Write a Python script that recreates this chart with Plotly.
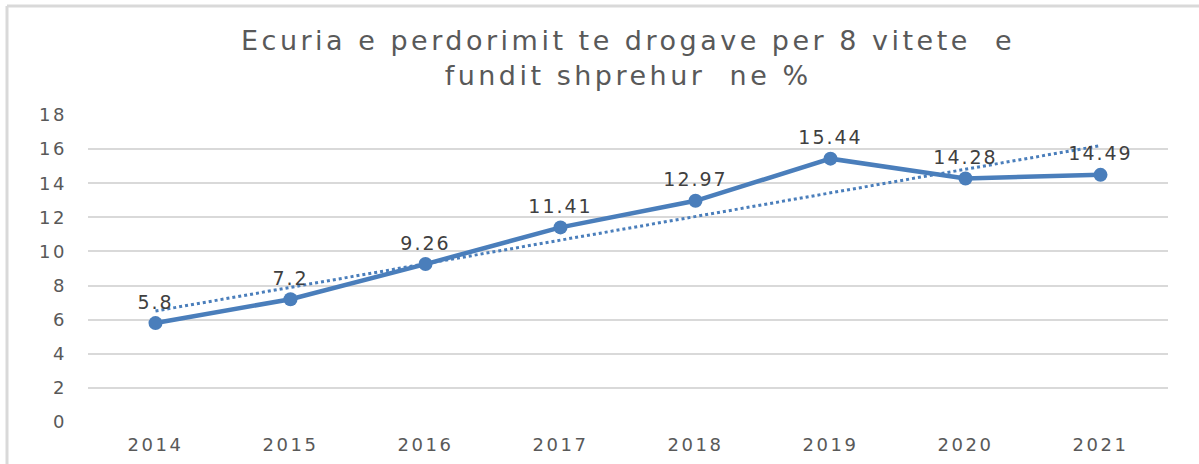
import numpy as np
import plotly.graph_objects as go

years = ["2014", "2015", "2016", "2017", "2018", "2019", "2020", "2021"]
values = [5.8, 7.2, 9.26, 11.41, 12.97, 15.44, 14.28, 14.49]
labels = ["5.8", "7.2", "9.26", "11.41", "12.97", "15.44", "14.28", "14.49"]
y_ticks = [0, 2, 4, 6, 8, 10, 12, 14, 16, 18]
title_lines = ["Ecuria e perdorimit te drogave per 8 vitete&nbsp; e", "fundit shprehur&nbsp; ne %"]


def spaced(s, px):
    return f'<span style="letter-spacing:{px}px">{s}</span>'


idx = np.arange(len(values))
slope, intercept = np.polyfit(idx, values, 1)
trend = slope * idx + intercept

FONT = "DejaVu Sans"
color = "#4a7ebb"
fig = go.Figure()
fig.add_trace(go.Scatter(
    x=years, y=trend, mode="lines",
    line=dict(color=color, width=3, dash="dot"),
    hoverinfo="skip", showlegend=False,
))
fig.add_trace(go.Scatter(
    x=years, y=values, mode="lines+markers+text",
    line=dict(color=color, width=4.5),
    marker=dict(color=color, size=14),
    text=[spaced(t, 2) for t in labels], textposition="top center",
    textfont=dict(size=19, color="#404040", family=FONT),
    showlegend=False,
))

fig.add_annotation(
    text="<br>".join(spaced(t, 3.5) for t in title_lines),
    xref="paper", yref="paper", x=0.5, y=1.185, xanchor="center", yanchor="middle",
    showarrow=False, font=dict(size=27, color="#595959", family=FONT),
)

fig.update_layout(
    width=1199, height=464,
    margin=dict(l=88, r=31, t=115, b=42),
    paper_bgcolor="white", plot_bgcolor="white",
    font=dict(family=FONT, color="#595959"),
    xaxis=dict(showgrid=False, showline=False, ticks="", tickfont=dict(size=18, color="#595959"),
               range=[-0.5, 7.5], tickvals=years, ticktext=[spaced(y, 2.5) for y in years],
               ticklabelstandoff=10, automargin=False),
    yaxis=dict(range=[0, 18], tickvals=y_ticks, ticktext=[spaced(str(v), 2.5) for v in y_ticks],
               showline=False, zeroline=False, gridcolor="#d9d9d9", automargin=False,
               gridwidth=1.5, ticks="", tickfont=dict(size=18, color="#595959"), ticklabelstandoff=20),
    shapes=[
        dict(type="line", xref="paper", yref="paper", x0=-0.075, x1=1.2, y0=1.355, y1=1.355,
             line=dict(color="#d9d9d9", width=3)),
        dict(type="line", xref="paper", yref="paper", x0=-0.075, x1=-0.075, y0=-0.3, y1=1.355,
             line=dict(color="#d9d9d9", width=3)),
    ],
)
fig.write_html("out.html", post_script="document.body.style.margin='0';",
               config={"displayModeBar": False})
